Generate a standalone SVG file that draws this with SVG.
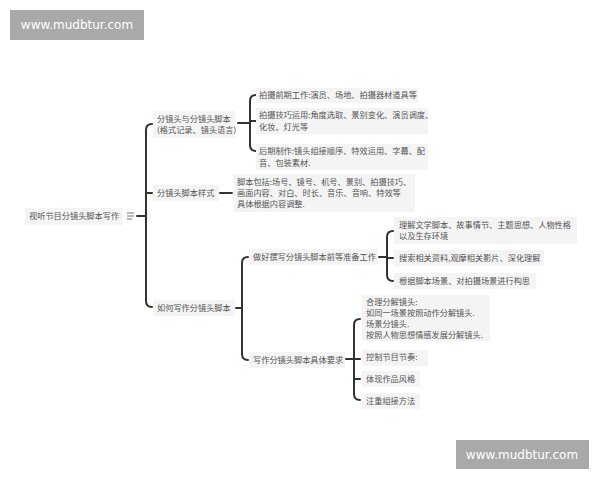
<svg xmlns="http://www.w3.org/2000/svg" width="600" height="480" viewBox="0 0 600 480">
<style>
text{font-family:"Noto Sans CJK SC","Liberation Sans",sans-serif;font-size:8.2px;fill:#555}
.wm{font-family:"DejaVu Sans",sans-serif;font-size:12px;fill:#fff;text-anchor:middle}
.bx{fill:#f4f4f4}
.ln{fill:none;stroke:#333;stroke-width:2;stroke-linecap:round}
</style>
<rect width="600" height="480" fill="#fff"/>
<g id="watermark1"><rect x="10" y="10" width="134" height="30" fill="#a9a9a9"/><text class="wm" x="77" y="29">www.mudbtur.com</text></g>
<g id="watermark2"><rect x="456" y="440" width="133" height="29" fill="#a9a9a9"/><text class="wm" x="522" y="459">www.mudbtur.com</text></g>

<g id="connectors">
<path class="ln" d="M137 216 H146"/>
<path class="ln" d="M152 124 Q146 124 146 130 V301 Q146 307 152 307 M146 193 H152"/>
<path class="ln" d="M238 123 H250 M256 95 Q250 95 250 101 V145 Q250 151 256 151 M250 121 H256"/>
<path class="ln" d="M220 193 H232"/>
<path class="ln" d="M236 308 H242 M248 257 Q242 257 242 263 V354 Q242 360 248 360"/>
<path class="ln" d="M379 257 H387 M393 231 Q387 231 387 237 V275 Q387 281 393 281 M387 258 H393"/>
<path class="ln" d="M346 359 H354 M360 319 Q354 319 354 325 V394 Q354 400 360 400 M354 359 H360 M354 379 H360"/>
</g>

<g id="root"><rect class="bx" x="25" y="208" width="98" height="17"/><text x="29" y="219">视听节目分镜头脚本写作</text>
<path d="M127 213 H134 M127 216 H134 M127 219 H132" stroke="#777" stroke-width="1" fill="none"/></g>

<g id="n1"><rect class="bx" x="153" y="111" width="82" height="27"/><text x="157" y="122">分镜头与分镜头脚本</text><text x="157" y="133">(格式记录、镜头语言)</text></g>
<g id="n1a"><rect class="bx" x="256" y="88" width="162" height="15"/><text x="259" y="98">拍摄前期工作:演员、场地、拍摄器材道具等</text></g>
<g id="n1b"><rect class="bx" x="256" y="108" width="172" height="26"/><text x="259" y="118">拍摄技巧运用:角度选取、景别变化、演员调度、</text><text x="259" y="130">化妆、灯光等</text></g>
<g id="n1c"><rect class="bx" x="256" y="144" width="172" height="26"/><text x="259" y="154">后期制作:镜头组接顺序、特效运用、字幕、配</text><text x="259" y="166">音、包装素材.</text></g>

<g id="n2"><rect class="bx" x="153" y="185" width="66" height="16"/><text x="157" y="196">分镜头脚本样式</text></g>
<g id="n2a"><rect class="bx" x="233" y="174" width="182" height="38"/><text x="237" y="185">脚本包括:场号、镜号、机号、景别、拍摄技巧、</text><text x="237" y="196">画面内容、对白、时长、音乐、音响、特效等</text><text x="237" y="207">具体根据内容调整.</text></g>

<g id="n3"><rect class="bx" x="153" y="300" width="82" height="16"/><text x="157" y="311">如何写作分镜头脚本</text></g>
<g id="n3a"><rect class="bx" x="249" y="249" width="129" height="16"/><text x="253" y="260">做好撰写分镜头脚本前等准备工作</text></g>
<g id="n3a1"><rect class="bx" x="394" y="217" width="183" height="27"/><text x="399" y="228">理解文学脚本、故事情节、主题思想、人物性格</text><text x="399" y="239">以及生存环境</text></g>
<g id="n3a2"><rect class="bx" x="394" y="250" width="150" height="16"/><text x="399" y="261">搜索相关资料,观摩相关影片、深化理解</text></g>
<g id="n3a3"><rect class="bx" x="394" y="273" width="142" height="16"/><text x="399" y="284">根据脚本场景、对拍摄场景进行构思</text></g>
<g id="n3b"><rect class="bx" x="249" y="352" width="96" height="16"/><text x="253" y="363">写作分镜头脚本具体要求</text></g>
<g id="n3b1"><rect class="bx" x="362" y="295" width="128" height="46"/><text x="366" y="305">合理分解镜头:</text><text x="366" y="316">如同一场景按照动作分解镜头.</text><text x="366" y="327">场景分镜头.</text><text x="366" y="338">按照人物思想情感发展分解镜头.</text></g>
<g id="n3b2"><rect class="bx" x="362" y="350" width="66" height="16"/><text x="366" y="360">控制节目节奏:</text></g>
<g id="n3b3"><rect class="bx" x="362" y="371" width="58" height="16"/><text x="366" y="382">体现作品风格</text></g>
<g id="n3b4"><rect class="bx" x="362" y="393" width="58" height="16"/><text x="366" y="404">注重组接方法</text></g>
</svg>
